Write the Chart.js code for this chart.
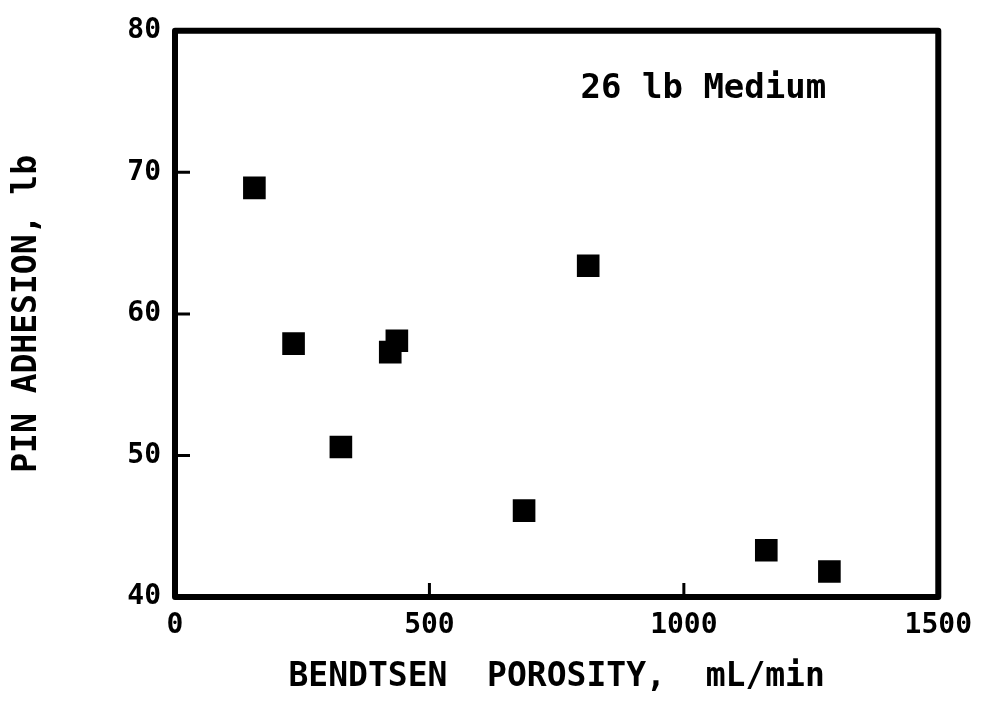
<!DOCTYPE html>
<html>
<head>
<meta charset="utf-8">
<script src="https://cdn.jsdelivr.net/npm/chart.js@4"></script>
<style>
    html, body { margin: 0; padding: 0; background: #fff; }
    #wrap { width: 984px; height: 718px; position: relative; }
</style>
</head>
<body>
<div id="wrap"><canvas id="porosityChart"></canvas></div>
<script>
// Bendtsen porosity (mL/min) vs pin adhesion (lb), 26 lb medium
const porosity = [156, 233, 326, 423, 436, 686, 812, 1162, 1286];
const adhesion = [68.9, 57.9, 50.6, 57.3, 58.1, 46.1, 63.4, 43.3, 41.8];

const xTicks = [0, 500, 1000, 1500];
const yTicks = [40, 50, 60, 70, 80];

const noteText = '26 lb Medium';
const notePos = { x: 797, y: 75.9 };

const FONT = "'DejaVu Sans Mono', monospace";

// box around the plot plus short inward tick marks on left and bottom
const frame = {
    id: 'frame',
    afterDatasetsDraw(chart) {
        const { ctx, chartArea: a, scales } = chart;
        ctx.save();
        ctx.strokeStyle = '#000';
        ctx.lineWidth = 6;
        ctx.lineJoin = 'round';
        ctx.strokeRect(a.left, a.top, a.right - a.left, a.bottom - a.top);

        ctx.lineWidth = 3;
        ctx.beginPath();
        xTicks.slice(1, -1).forEach(v => {
            const px = scales.x.getPixelForValue(v);
            ctx.moveTo(px, a.bottom);
            ctx.lineTo(px, a.bottom - 14);
        });
        yTicks.slice(1, -1).forEach(v => {
            const py = scales.y.getPixelForValue(v);
            ctx.moveTo(a.left, py);
            ctx.lineTo(a.left + 15, py);
        });
        ctx.stroke();

        ctx.fillStyle = '#000';
        ctx.font = 'bold 34px ' + FONT;
        ctx.textAlign = 'left';
        ctx.textBaseline = 'middle';
        ctx.fillText(noteText, scales.x.getPixelForValue(notePos.x), scales.y.getPixelForValue(notePos.y));
        ctx.restore();
    }
};

new Chart(document.getElementById('porosityChart'), {
    type: 'scatter',
    data: {
        datasets: [{
            data: porosity.map((x, i) => ({ x, y: adhesion[i] })),
            pointStyle: 'rect',
            pointRadius: 16,
            pointHoverRadius: 16,
            backgroundColor: '#000',
            borderColor: '#000',
            borderWidth: 0
        }]
    },
    options: {
        responsive: true,
        maintainAspectRatio: false,
        animation: false,
        events: [],
        layout: { padding: { left: 0, right: 41, top: 30, bottom: 0 } },
        plugins: {
            legend: { display: false },
            tooltip: { enabled: false }
        },
        scales: {
            x: {
                type: 'linear',
                min: 0,
                max: 1500,
                afterBuildTicks: s => { s.ticks = xTicks.map(value => ({ value })); },
                afterFit: s => { s.height = 121; },
                grid: { display: false, drawTicks: false },
                border: { display: false },
                ticks: {
                    color: '#000',
                    padding: 12,
                    maxRotation: 0,
                    callback: v => String(v),
                    font: { family: FONT, size: 28, weight: 'bold' }
                },
                title: {
                    display: true,
                    text: 'BENDTSEN  POROSITY,  mL/min',
                    color: '#000',
                    font: { family: FONT, size: 33, weight: 'bold' },
                    padding: { top: 0, bottom: 21 }
                }
            },
            y: {
                type: 'linear',
                min: 40,
                max: 80,
                afterBuildTicks: s => { s.ticks = yTicks.map(value => ({ value })); },
                afterFit: s => { s.width = 175; },
                grid: { display: false, drawTicks: false },
                border: { display: false },
                ticks: {
                    color: '#000',
                    padding: 14,
                    font: { family: FONT, size: 28, weight: 'bold' }
                },
                title: {
                    display: true,
                    text: 'PIN ADHESION, lb',
                    color: '#000',
                    font: { family: FONT, size: 33, weight: 'bold' },
                    padding: { top: 8, bottom: 0 }
                }
            }
        }
    },
    plugins: [frame]
});
</script>
</body>
</html>
